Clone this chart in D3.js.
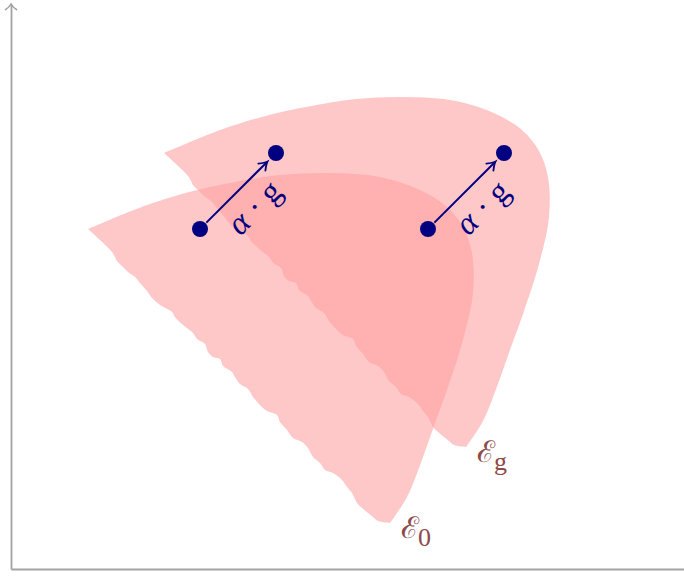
<!DOCTYPE html>
<html><head><meta charset="utf-8">
<script src="https://cdn.jsdelivr.net/npm/d3@7"></script>
<style>body{margin:0;background:#fff}svg{display:block}</style>
</head><body>
<svg id="c" width="684" height="582"></svg>
<script>
// ---- data (abstract plot units) ----
const setNames = ["\u2130", "\u2130"];
const setSubs = ["0", "g"];
// smooth boundary of E0, from upper-left corner round to the bottom tip
const boundarySmooth = [[77,340],[136,364],[186,379],[219,386],[269,394],[319,396],[369,392],[409,379],[436,362],[452,342],[461,316],[462,276],[452,229],[436,179],[424,146],[412,112],[396,72],[379,46]];
// ragged boundary of E0, from bottom tip back to upper-left corner
const boundaryRagged = [[367,48],[363,51],[357,56],[351,61],[346,66],[341,76],[336,82],[331,89],[322,96],[314,99],[309,106],[302,112],[297,121],[291,127],[282,131],[276,139],[269,147],[266,154],[256,158],[249,164],[242,172],[237,180],[229,185],[224,192],[221,197],[212,203],[209,210],[202,212],[197,217],[194,225],[186,230],[182,236],[172,244],[164,252],[161,257],[149,264],[141,271],[136,278],[129,286],[124,292],[117,297],[112,302],[106,308],[104,312],[101,317],[89,329],[77,340]];
const shiftG = [76, 76];           // translation α·g
const basePoints = [[189,340],[417,340]];
const arrowLabel = ["\u03B1", " \u00B7 ", "g"];

// ---- scales ----
const x = d3.scaleLinear().domain([0, 673]).range([11, 684]);
const y = d3.scaleLinear().domain([0, 565]).range([569, 4]);
const svg = d3.select("#c");

// axes
const axisColor = "#a3a3a3";
svg.append("g").attr("transform", `translate(0,${y(0)})`)
  .call(d3.axisBottom(x).ticks(0).tickSizeOuter(0))
  .call(g => g.select(".domain").attr("stroke", axisColor).attr("stroke-width", 1.8));
svg.append("g").attr("transform", `translate(${x(0)},0)`)
  .call(d3.axisLeft(y).ticks(0).tickSizeOuter(0))
  .call(g => g.select(".domain").attr("stroke", axisColor).attr("stroke-width", 1.8));
svg.append("path")
  .attr("d", `M${x(0)-6},${y(559)} Q${x(0)-1.5},${y(562)} ${x(0)},${y(565)} Q${x(0)+1.5},${y(562)} ${x(0)+6},${y(559)}`)
  .attr("fill", "none").attr("stroke", axisColor).attr("stroke-width", 1.6);

// sets
const lineSmooth = d3.line().x(d => x(d[0])).y(d => y(d[1])).curve(d3.curveCatmullRom.alpha(0.5));
const lineRagged = d3.line().x(d => x(d[0])).y(d => y(d[1])).curve(d3.curveCatmullRom.alpha(0.5));
function setPath(dx, dy) {
  const s = boundarySmooth.map(p => [p[0] + dx, p[1] + dy]);
  const r = [s[s.length - 1]].concat(boundaryRagged.map(p => [p[0] + dx, p[1] + dy]));
  return lineSmooth(s) + lineRagged(r).replace(/^M/, "L") + "Z";
}
const shifts = [[0, 0], shiftG];
svg.selectAll("path.set").data(shifts).join("path").attr("class", "set")
  .attr("d", d => setPath(d[0], d[1]))
  .attr("fill", "#ff9d9d").attr("fill-opacity", 0.56);

// set labels
shifts.forEach((s, i) => {
  const last = boundarySmooth[boundarySmooth.length - 1];
  const tip = [last[0] + s[0], last[1] + s[1]];
  const t = svg.append("text")
    .attr("x", x(tip[0]) + 11).attr("y", y(tip[1]) + 15)
    .attr("font-family", "'DejaVu Serif', serif")
    .attr("font-size", 30).attr("fill", "#8e4a4a");
  t.append("tspan").text(setNames[i]);
  t.append("tspan").attr("font-family", "'Liberation Serif', serif").attr("font-size", 26).attr("dy", 8).attr("dx", -1).text(setSubs[i]);
});

// arrows, dots, labels
const navy = "#000080";
basePoints.forEach(p => {
  const a = [x(p[0]), y(p[1])];
  const b = [x(p[0] + shiftG[0]), y(p[1] + shiftG[1])];
  const len = Math.hypot(b[0] - a[0], b[1] - a[1]);
  const ux = (b[0] - a[0]) / len, uy = (b[1] - a[1]) / len;
  const s0 = [a[0] + ux * 9, a[1] + uy * 9];
  const e0 = [b[0] - ux * 12, b[1] - uy * 12];
  svg.append("line").attr("x1", s0[0]).attr("y1", s0[1]).attr("x2", e0[0] - ux).attr("y2", e0[1] - uy)
    .attr("stroke", navy).attr("stroke-width", 2);
  const ang = Math.atan2(uy, ux) * 180 / Math.PI;
  svg.append("path")
    .attr("transform", `translate(${e0[0]},${e0[1]}) rotate(${ang})`)
    .attr("d", "M-8,-5 Q-3,-1 0,0 Q-3,1 -8,5")
    .attr("fill", "none").attr("stroke", navy).attr("stroke-width", 1.8).attr("stroke-linecap", "round");
  const mid = [(a[0] + b[0]) / 2 + 17, (a[1] + b[1]) / 2 + 17];
  const t = svg.append("text")
    .attr("transform", `translate(${mid[0]},${mid[1]}) rotate(-45)`)
    .attr("text-anchor", "middle").attr("dy", "0.3em")
    .attr("font-family", "'Liberation Serif', serif").attr("font-size", 33).attr("fill", navy)
    .style("white-space", "pre");
  t.append("tspan").attr("font-style", "italic").text(arrowLabel[0]);
  t.append("tspan").text(arrowLabel[1]);
  t.append("tspan").text(arrowLabel[2]);
});
svg.selectAll("circle.pt").data(basePoints.flatMap(p => [p, [p[0] + shiftG[0], p[1] + shiftG[1]]]))
  .join("circle").attr("class", "pt")
  .attr("cx", d => x(d[0])).attr("cy", d => y(d[1])).attr("r", 8).attr("fill", navy);
</script>
</body></html>
